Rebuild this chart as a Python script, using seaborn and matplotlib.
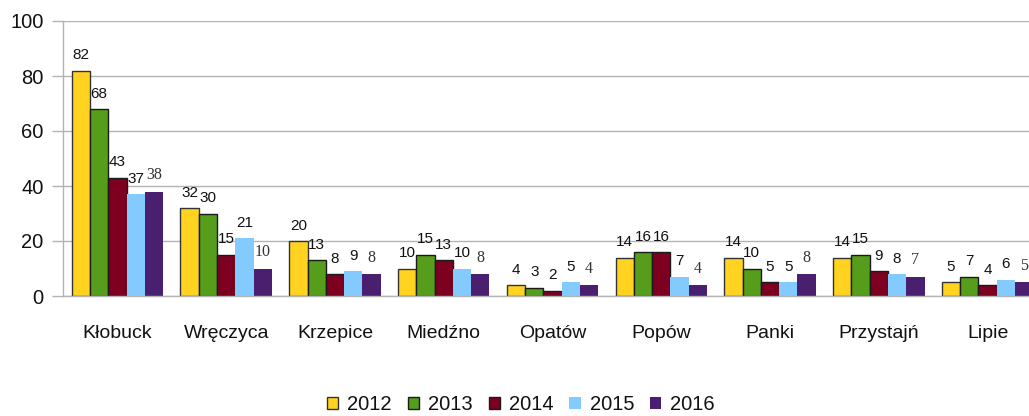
import matplotlib
matplotlib.use("Agg")
import matplotlib.pyplot as plt
import seaborn as sns
import pandas as pd
import numpy as np
from matplotlib.patches import Patch
from matplotlib.ticker import FixedLocator

categories = ["Kłobuck", "Wręczyca", "Krzepice", "Miedźno", "Opatów", "Popów", "Panki", "Przystajń", "Lipie"]
years = ["2012", "2013", "2014", "2015", "2016"]
v2012 = [82, 32, 20, 10, 4, 14, 14, 14, 5]
v2013 = [68, 30, 13, 15, 3, 16, 10, 15, 7]
v2014 = [43, 15, 8, 13, 2, 16, 5, 9, 4]
v2015 = [37, 21, 9, 10, 5, 7, 5, 8, 6]
v2016 = [38, 10, 8, 8, 4, 4, 8, 7, 5]
series = [v2012, v2013, v2014, v2015, v2016]

colors = ["#FFD320", "#579D1C", "#7E0021", "#83CAFF", "#4B1F6F"]
edges = ["#333333", "#1a1a1a", "#1a1a1a", "none", "none"]

rows = []
for y, vals in zip(years, series):
    for c, v in zip(categories, vals):
        rows.append({"cat": c, "year": y, "val": v})
df = pd.DataFrame(rows)

sns.set_style("white")
plt.rcParams["font.family"] = ["Liberation Sans", "DejaVu Sans"]

fig = plt.figure(figsize=(10.29, 4.16), dpi=100)
W, H = 1029, 416
ax = fig.add_axes([63 / W, (H - 296) / H, (1042 - 63) / W, (296 - 21) / H])

sns.barplot(data=df, x="cat", y="val", hue="year", order=categories, hue_order=years,
            palette=colors, width=0.84, saturation=1, ax=ax, legend=False, errorbar=None)

for i, cont in enumerate(ax.containers):
    for p in cont.patches:
        if edges[i] == "none":
            p.set_edgecolor("none")
            p.set_linewidth(0)
        else:
            p.set_edgecolor(edges[i])
            p.set_linewidth(1.0)
    if i == 4:
        ax.bar_label(cont, labels=[str(v) for v in series[i]], padding=6,
                     fontsize=11.5, family=["Liberation Serif", "DejaVu Serif"], color="#333333")
    else:
        ax.bar_label(cont, labels=[str(v) for v in series[i]], padding=6,
                     fontsize=11, color="#111111")

ax.set_xlim(-0.5, len(categories) - 0.5)
ax.set_ylim(0, 100)
ax.set_yticks([0, 20, 40, 60, 80, 100])
ax.yaxis.grid(True, color="#b3b3b3", linewidth=1)
ax.set_axisbelow(True)
ax.set_xlabel("")
ax.set_ylabel("")
for s in ["top", "right"]:
    ax.spines[s].set_visible(False)
for s in ["left", "bottom"]:
    ax.spines[s].set_color("#b3b3b3")
    ax.spines[s].set_linewidth(1)

ax.xaxis.set_minor_locator(FixedLocator(np.arange(-0.5, len(categories), 1.0)))
ax.tick_params(axis="x", which="major", length=0, pad=21, labelsize=14, labelcolor="#111111")
ax.tick_params(axis="x", which="minor", length=8, width=1, color="#b3b3b3", direction="out")
ax.tick_params(axis="y", which="major", length=8, width=1, color="#b3b3b3", pad=6,
               labelsize=14.5, labelcolor="#111111", left=True)

handles = [Patch(facecolor=colors[i], edgecolor=(edges[i] if edges[i] != "none" else colors[i]),
                 linewidth=1 if edges[i] != "none" else 0, label=years[i]) for i in range(5)]
fig.legend(handles=handles, loc="center", bbox_to_anchor=(521 / W, 1 - 405 / H), ncol=5,
           frameon=False, fontsize=14.5, handlelength=0.55, handleheight=0.55,
           handletextpad=0.45, columnspacing=0.8, labelcolor="#111111")

fig.savefig("out.png", dpi=100)
